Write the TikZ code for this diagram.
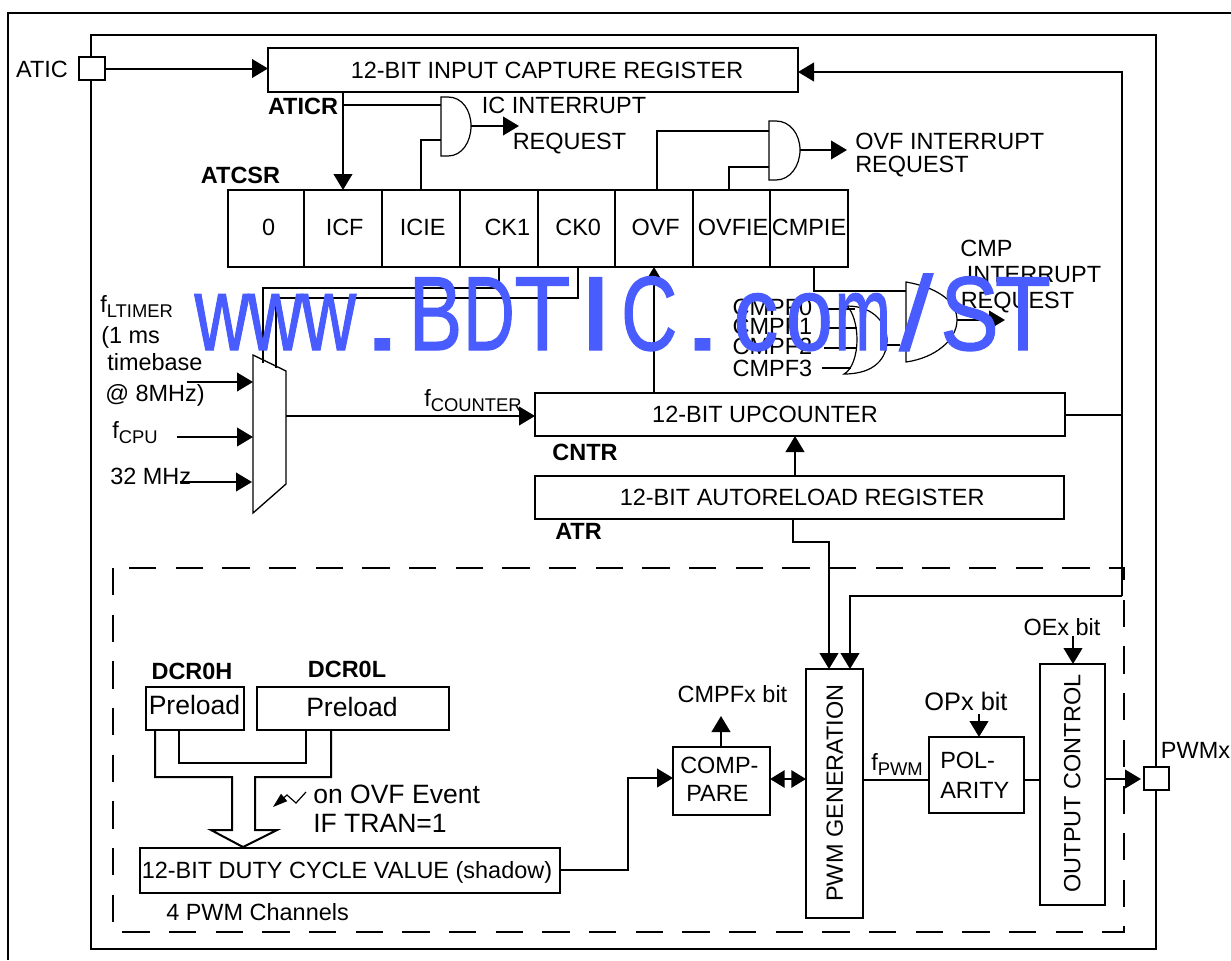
\documentclass[tikz,border=0pt]{standalone}
\usepackage{fontspec}
\usepackage{graphicx}
\setmainfont{Liberation Sans}
\newfontfamily\wmfont[FakeBold=1.2]{Liberation Sans}
\usetikzlibrary{arrows.meta,calc}
\newcommand{\subt}[1]{\raisebox{-3.5pt}{\fontsize{13.8}{14}\selectfont #1}}
\newcommand{\wmc}[2]{\makebox[40.05pt][c]{\scalebox{#1}[1]{#2}}}
\newcommand{\cellt}[1]{\raisebox{2pt}{\hspace*{2.5pt}#1}}
\tikzset{
  px/.style={x=0.75pt,y=-0.75pt},
  wire/.style={line width=1.5pt,line join=miter},
  conn/.style={wire,-{Triangle[length=12pt,width=14pt]}},
  box/.style 2 args={draw,line width=1.5pt,fill=white,anchor=north west,inner sep=0pt,outer sep=0pt,
     minimum width=#1*0.75pt,minimum height=#2*0.75pt,font=\fontsize{17.6}{19}\selectfont,align=center},
  lbl/.style={inner sep=0pt,text height=12.6pt,text depth=0pt,font=\fontsize{17.6}{19}\selectfont},
  bold lbl/.style={lbl,font=\fontsize{17.6}{19}\selectfont\bfseries},
  big lbl/.style={lbl,font=\fontsize{19.9}{21}\selectfont,text height=14.2pt},
  gate/.style={line width=0.9pt,fill=white},
  watermark/.style={text=wm,inner sep=0pt,anchor=base west,font=\wmfont\fontsize{79}{80}\selectfont}
}
\definecolor{wm}{RGB}{72,92,255}
\begin{document}
\begin{tikzpicture}[px]
\useasboundingbox (0,0) rectangle (1231,960);
% frames
\coordinate (fa) at (8,960); \coordinate (fb) at (8,13); \coordinate (fc) at (1231,13);
\draw[wire] (fa) -- (fb) -- (fc);
\coordinate (ia) at (91,35); \coordinate (ib) at (1156,949);
\draw[wire] (ia) rectangle (ib);
% dashed
\coordinate (da) at (113,568); \coordinate (db) at (1124,932);
\draw[wire,dash pattern=on 20.5pt off 14.5pt] (da) rectangle (db);
% top
\node[box={26}{23}] (atic) at (79,57) {};
\node[box={530}{44}] (icr) at (268,48) {\raisebox{-1pt}{\hspace*{21pt}12-BIT INPUT CAPTURE REGISTER}};
\draw[conn] (atic.east) -- (atic.east -| icr.west);
\node[lbl] (aticl) at (42,69) {ATIC};
\node[bold lbl] (aticr) at (303,106) {ATICR};
% register
\node[box={76}{77}] (c0) at (228,190) {\cellt{\hspace*{1.5pt}0}};
\node[box={78}{77}] (c1) at (304,190) {\cellt{ICF}};
\node[box={78}{77}] (c2) at (382,190) {\cellt{ICIE}};
\node[box={78}{77}] (c3) at (460,190) {\cellt{\hspace*{10pt}CK1}};
\node[box={77}{77}] (c4) at (538,190) {\cellt{CK0}};
\node[box={78}{77}] (c5) at (615,190) {\cellt{OVF}};
\node[box={77}{77}] (c6) at (693,190) {\cellt{OVFIE}};
\node[box={78}{77}] (c7) at (770,190) {\raisebox{2pt}{CMPIE}};
\node[bold lbl] (atcsr) at (240.5,175) {ATCSR};
% IC AND gate
\coordinate (g1a) at (441,105); \coordinate (g1b) at (441,140); \coordinate (g1o) at (471,126);
\draw[gate] (441,97) -- (448,97) .. controls (462,97) and (471,110) .. (471,126) .. controls (471,142) and (462,156) .. (448,156) -- (441,156) -- cycle;
\coordinate (icrt) at (342,105);
\draw[conn] (icr.south -| c1.center) -- (c1.north);
\draw[wire] (icrt) -- (g1a);
\draw[wire] (421,190) -- (421,140) -- (g1b);
\coordinate (g1t) at (519,126);
\draw[conn] (g1o) -- (g1t);
\node[lbl] (icl1) at (564,105) {IC INTERRUPT};
\node[lbl] (icl2) at (569.5,141) {REQUEST};
% OVF AND gate
\coordinate (g2a) at (769,131); \coordinate (g2b) at (769,167); \coordinate (g2o) at (800,150);
\draw[gate] (769,121) -- (776,121) .. controls (790,121) and (800,134) .. (800,150) .. controls (800,166) and (790,180) .. (776,180) -- (769,180) -- cycle;
\draw[wire] (657,190) -- (657,131) -- (g2a);
\draw[wire] (729,190) -- (729,167) -- (g2b);
\coordinate (g2t) at (847,150);
\draw[conn] (g2o) -- (g2t);
\node[lbl,anchor=west] (ovl1) at (855,141) {OVF INTERRUPT};
\node[lbl,anchor=west] (ovl2) at (855,164) {REQUEST};
% CMP gates
\coordinate (g3a) at (906,291); \coordinate (g3b) at (900,345); \coordinate (g3o) at (957,320);
\draw[wire] (814,267) -- (814,291) -- (g3a);
\draw[gate] (906,282) .. controls (935,287) and (957,300) .. (957,320) .. controls (957,340) and (935,358) .. (906,362) -- cycle;
\coordinate (g3t) at (1005,320);
\draw[conn] (g3o) -- (g3t);
\node[lbl] (cmp1) at (986.5,248) {CMP};
\node[lbl] (cmp2) at (1034,274) {INTERRUPT};
\node[lbl] (cmp3) at (1017.5,300) {REQUEST};
\node[lbl] (f0) at (772.5,307) {CMPF0};
\node[lbl] (f1) at (772.5,326) {CMPF1};
\node[lbl] (f2) at (772.5,346) {CMPF2};
\node[lbl] (f3) at (772.5,368) {CMPF3};
\draw[line width=1.2pt] (824,309) -- (855,309) (824,328) -- (857,328) (824,348) -- (857,348) (822,368) -- (851,368);
\draw[gate,fill=none] (847,306) .. controls (875,306) and (887,325) .. (887,340) .. controls (887,358) and (875,374) .. (844,374) .. controls (852,370) and (857,355) .. (857,340) .. controls (857,325) and (853,312) .. (847,306) -- cycle;
\coordinate (g4o) at (887,345);
\draw[wire] (g4o) -- (g3b);
% mux
\draw[line width=1pt,fill=white] (253,355) coordinate (ma) -- (286,371) -- (286,484) -- (253,513) coordinate (mb) -- cycle;
\coordinate (mo) at (286,416);
\draw[wire] (499,267) -- (499,288) -- (263,288) -- (263,363);
\draw[wire] (578,267) -- (578,298) -- (276,298) -- (276,368);
\draw[conn] (187,382) coordinate (m1) -- (253,382);
\draw[conn] (177,437) coordinate (m2) -- (253,437);
\draw[conn] (180,482) coordinate (m3) -- (252,482);
\node[lbl,anchor=west] (ft) at (100,304) {f\subt{LTIMER}};
\node[lbl,anchor=west] (ft2) at (101,335) {(1 ms};
\node[lbl,anchor=west] (ft3) at (107,362) {timebase};
\node[lbl,anchor=west] (ft4) at (105,393) {@ 8MHz)};
\node[lbl,anchor=west] (fc1) at (112,430) {f\subt{CPU}};
\node[lbl,anchor=west] (mhz) at (110,476) {32 MHz};
% counter
\node[box={530}{43}] (cntr) at (535,393) {\raisebox{-0.7pt}{12-BIT UPCOUNTER\hspace*{52.5pt}}};
\node[box={529}{43}] (atr) at (535,476) {\hspace*{4pt}12-BIT AUTORELOAD REGISTER};
\draw[conn] (mo) -- (mo -| cntr.west);
\node[lbl,anchor=west] (fcn) at (424,398) {f\subt{COUNTER}};
\node[bold lbl] (cntrl) at (585,452) {CNTR};
\node[bold lbl] (atrl) at (578.5,531) {ATR};
\draw[conn] (654,393) -- (654,267);
\draw[conn] (795,476) -- (795,436);
% PWM
\node[box={57}{249}] (pwm) at (806,669) {};
\node[lbl,rotate=90] (pwml) at (834.5,793) {PWM GENERATION};
\node[box={65}{241}] (oc) at (1040,664) {};
\node[lbl,rotate=90] (ocl) at (1072,783.5) {OUTPUT CONTROL};
\node[box={95}{76}] (pol) at (929,737) {};
\node[lbl,anchor=west] (pol1) at (940,760) {POL-};
\node[lbl,anchor=west] (pol2) at (940,790) {ARITY};
\node[box={97}{68}] (cmpb) at (673,747) {};
\node[lbl,anchor=west] (cm1) at (680,765) {COMP-};
\node[lbl,anchor=west] (cm2) at (686,793) {PARE};
\node[box={25}{23}] (pin) at (1144,767) {};
\node[lbl] (pinl) at (1195.5,750) {PWMx};
% right bus
\coordinate (r0) at (1122,415); \coordinate (r1) at (1122,72); \coordinate (r2) at (1122,596); \coordinate (r3) at (850,596);
\draw[wire] (cntr.east |- r0) -- (r0);
\draw[conn] (r2) -- (r1) -- (r1 -| icr.east);
\draw[conn] (r2) -- (r3) -- (r3 |- pwm.north);
\coordinate (a1) at (793,542); \coordinate (a2) at (829,542);
\draw[conn] (atr.south -| a1) -- (a1) -- (a2) -- (a2 |- pwm.north);
% preload
\node[box={98}{43}] (p0) at (146,687) {};
\node[big lbl] (p0t) at (194.5,705) {Preload};
\node[box={192}{43}] (p1) at (257,687) {};
\node[big lbl] (p1t) at (352,707) {Preload};
\node[bold lbl] (p0l) at (192,671) {DCR0H};
\node[bold lbl] (p1l) at (347,669) {DCR0L};
\node[box={420}{45}] (duty) at (140,848) {};
\node[lbl] (dutyt) at (347,870) {12-BIT DUTY CYCLE VALUE (shadow)};
\draw[line width=1.5pt,line join=miter] (155,730) -- (155,777) -- (232,777) -- (232,830) -- (211,830) -- (243,847) -- (277,830) -- (255,830) -- (255,777) -- (331,777) -- (331,730);
\draw[line width=1.5pt] (179,730) -- (179,763) -- (306,763) -- (306,730);
\draw[line width=0.9pt,-{Triangle[length=11pt,width=7pt]}] (306,792) -- (296,803) -- (287,795) -- (273,807);
\node[big lbl,anchor=west] (ev1) at (313,794) {on OVF Event};
\node[big lbl,anchor=west] (ev2) at (313,823) {IF TRAN=1};
\node[lbl,anchor=west] (chl) at (166,912) {4 PWM Channels};
\coordinate (d1) at (628,870); \coordinate (d2) at (628,778);
\draw[conn] (d1 -| duty.east) -- (d1) -- (d2) -- (d2 -| cmpb.west);
\coordinate (cb) at (721,716);
\draw[conn] (cb |- cmpb.north) -- (cb);
\node[lbl] (cbl) at (732.5,694) {CMPFx bit};
\coordinate (lk) at (788,779);
\draw[wire,{Triangle[length=11pt,width=13pt]}-{Triangle[length=11pt,width=13pt]}] (cmpb.east |- lk) -- (pwm.west |- lk);
\coordinate (po) at (0,780);
\draw[wire] (pwm.east |- po) -- (pol.west |- po);
\draw[wire] (pol.east |- po) -- (oc.west |- po);
\node[lbl,anchor=west] (fpw) at (871,762) {f\subt{PWM}};
\node[lbl,font=\fontsize{19}{21}\selectfont] (opl) at (966,702) {OPx bit};
\coordinate (ob) at (979,714);
\draw[conn] (ob) -- (ob |- pol.north);
\node[lbl] (oel) at (1062,627) {OEx bit};
\coordinate (oe) at (1073,636);
\draw[conn] (oe) -- (oe |- oc.north);
\coordinate (oo) at (0,779);
\draw[conn] (oc.east |- oo) -- (1141,779);
% watermark
\node[watermark] (wm) at (195,350) {\wmc{.72}{w}\wmc{.72}{w}\wmc{.72}{w}\wmc{1.4}{.}\wmc{.76}{B}\wmc{.68}{D}\wmc{.87}{T}\wmc{1.2}{I}\wmc{.74}{C}\wmc{1.4}{.}\wmc{.85}{c}\wmc{.8}{o}\wmc{.64}{m}\wmc{1.15}{/}\wmc{.83}{S}\wmc{.87}{T}};
\end{tikzpicture}
\end{document}
